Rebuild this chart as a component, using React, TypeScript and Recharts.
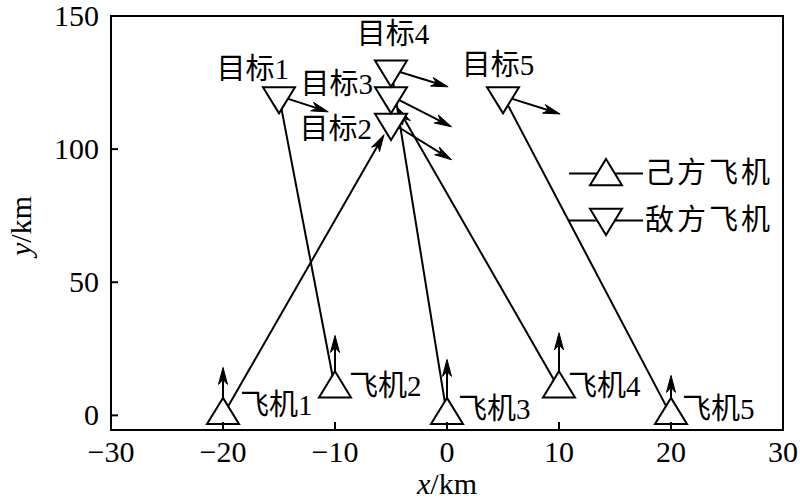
import React from 'react';
import {
  ScatterChart,
  Scatter,
  XAxis,
  YAxis,
  ReferenceLine,
  ReferenceArea,
  Legend,
} from 'recharts';

// own aircraft
const ownNames = ['飞机1', '飞机2', '飞机3', '飞机4', '飞机5'];
const ownX = [-20, -10, 0, 10, 20];
const ownY = [0, 10, 0, 10, 0];
const ownVy = [18, 20, 21, 21, 15];

// enemy targets
const targetNames = ['目标1', '目标2', '目标3', '目标4', '目标5'];
const targetX = [-15, -5, -5, -5, 5];
const targetY = [120, 110, 120, 130, 120];
const targetVx = [4.4, 5.4, 5.4, 5.1, 5.1];
const targetVy = [-6, -14, -11.6, -6.6, -6.8];

// target index assigned to each own aircraft
const assignTo = [1, 0, 3, 2, 4];
const assignHead = [true, false, false, true, false];

const xTicks = [-30, -20, -10, 0, 10, 20, 30];
const yTicks = [0, 50, 100, 150];
const legendNames = ['己方飞机', '敌方飞机'];

// label placement (pixels, relative to marker)
const ownLabelPos: [number, number][] = [[17, -10], [14, -3], [11, -6], [9, -3], [11, -6]];
const targetLabelPos: [string, number, number][] = [
  ['end', 10, -27],
  ['end', -19, 7],
  ['end', -18, -12],
  ['middle', 2, -35],
  ['middle', -5, -31],
];

const SERIF = '"Liberation Serif", "Times New Roman", serif';
const CJK = '"Liberation Serif", "Noto Sans CJK SC", sans-serif';

const ownData = ownNames.map((name, i) => ({ x: ownX[i], y: ownY[i], name, i }));
const targetData = targetNames.map((name, i) => ({ x: targetX[i], y: targetY[i], name, i }));

const upTri = (cx: number, cy: number) =>
  `${cx},${cy - 17.5} ${cx + 16},${cy + 8.7} ${cx - 16},${cy + 8.7}`;
const downTri = (cx: number, cy: number) =>
  `${cx - 16},${cy - 8.7} ${cx + 16},${cy - 8.7} ${cx},${cy + 17.5}`;

const arrowShape = (head: boolean, back: number) => (props: any) => {
  const { x1, y1, x2, y2 } = props;
  const dx = x2 - x1;
  const dy = y2 - y1;
  const len = Math.sqrt(dx * dx + dy * dy) || 1;
  const ux = dx / len;
  const uy = dy / len;
  const tx = x2 - ux * back;
  const ty = y2 - uy * back;
  const hl = 17;
  const hw = 4.5;
  const nl = 12;
  const bx = tx - ux * hl;
  const by = ty - uy * hl;
  const pts = [
    [tx, ty],
    [bx - uy * hw, by + ux * hw],
    [tx - ux * nl, ty - uy * nl],
    [bx + uy * hw, by - ux * hw],
  ]
    .map((p) => p.join(','))
    .join(' ');
  return (
    <g>
      <line x1={x1} y1={y1} x2={head ? tx - ux * 8 : x2} y2={head ? ty - uy * 8 : y2} stroke="#000" strokeWidth={2} />
      {head && <polygon points={pts} fill="#000" stroke="#000" strokeWidth={1} />}
    </g>
  );
};

const OwnShape = (props: any) => {
  const { cx, cy, payload } = props;
  const [dx, dy] = ownLabelPos[payload.i];
  return (
    <g>
      <polygon points={upTri(cx, cy)} fill="#fff" stroke="#000" strokeWidth={2} />
      <text x={cx + dx} y={cy + dy} textAnchor="start" dominantBaseline="central" fontFamily={CJK} fontSize={29} fill="#000">
        {payload.name}
      </text>
    </g>
  );
};

const TargetShape = (props: any) => {
  const { cx, cy, payload } = props;
  const [anchor, dx, dy] = targetLabelPos[payload.i];
  return (
    <g>
      <polygon points={downTri(cx, cy)} fill="#fff" stroke="#000" strokeWidth={2} />
      <text x={cx + dx} y={cy + dy} textAnchor={anchor as any} dominantBaseline="central" fontFamily={CJK} fontSize={29} fill="#000">
        {payload.name}
      </text>
    </g>
  );
};

const fmt = (v: number) => String(v).replace('-', '\u2212');

const XTick = (props: any) => {
  const { x, y, payload } = props;
  return (
    <g>
      <line x1={x} x2={x} y1={y} y2={y - 8} stroke="#000" strokeWidth={2} />
      <text x={x} y={y + 32} textAnchor="middle" fontFamily={SERIF} fontSize={30} fill="#000">
        {fmt(payload.value)}
      </text>
    </g>
  );
};

const YTick = (props: any) => {
  const { x, y, payload } = props;
  return (
    <g>
      <line x1={x} x2={x + 7} y1={y} y2={y} stroke="#000" strokeWidth={2} />
      <text x={x - 12} y={y + 10} textAnchor="end" fontFamily={SERIF} fontSize={30} fill="#000">
        {fmt(payload.value)}
      </text>
    </g>
  );
};

const LegendContent = () => (
  <div style={{ display: 'flex', flexDirection: 'column' }}>
    {legendNames.map((name, i) => (
      <div key={name} style={{ display: 'flex', alignItems: 'center', height: 47 }}>
        <svg width={76} height={47}>
          <line x1={0} x2={74} y1={23.5} y2={23.5} stroke="#000" strokeWidth={2} />
          <polygon points={i === 0 ? upTri(37, 23.5 + 3) : downTri(37, 23.5 - 3)} fill="#fff" stroke="#000" strokeWidth={2} />
        </svg>
        <span style={{ fontFamily: CJK, fontSize: 29, letterSpacing: 3, lineHeight: '47px', color: '#000', whiteSpace: 'nowrap' }}>{name}</span>
      </div>
    ))}
  </div>
);

export default function App() {
  return (
    <div style={{ position: 'absolute', left: 0, top: 0, background: '#fff' }}>
      <ScatterChart width={800} height={504} margin={{ top: 16, right: 17, bottom: 0, left: 0 }}>
        <XAxis
          type="number"
          dataKey="x"
          domain={[-30, 30]}
          ticks={xTicks}
          axisLine={false}
          tickLine={false}
          tickSize={0}
          tickMargin={0}
          height={74}
          tick={<XTick />}
          label={{
            content: (p: any) => (
              <text x={p.viewBox.x + p.viewBox.width / 2} y={p.viewBox.y + 64} textAnchor="middle" fontFamily={SERIF} fontSize={30} fill="#000">
                <tspan fontStyle="italic">x</tspan>/km
              </text>
            ),
          }}
        />
        <YAxis
          type="number"
          dataKey="y"
          domain={[-5.5, 150]}
          ticks={yTicks}
          axisLine={false}
          tickLine={false}
          tickSize={0}
          tickMargin={0}
          width={111}
          tick={<YTick />}
          label={{
            content: (p: any) => {
              const cx = p.viewBox.x + 31;
              const cy = p.viewBox.y + p.viewBox.height / 2 + 3;
              return (
                <text x={cx} y={cy} transform={`rotate(-90, ${cx}, ${cy})`} textAnchor="middle" fontFamily={SERIF} fontSize={30} fill="#000">
                  <tspan fontStyle="italic">y</tspan>/km
                </text>
              );
            },
          }}
        />
        <ReferenceArea x1={-30} x2={30} y1={-5.5} y2={150} fill="none" fillOpacity={0} stroke="#000" strokeWidth={2} />
        {ownNames.map((n, i) => (
          <ReferenceLine
            key={`as-${n}`}
            segment={[
              { x: ownX[i], y: ownY[i] },
              { x: targetX[assignTo[i]], y: targetY[assignTo[i]] },
            ]}
            shape={arrowShape(assignHead[i], 14)}
          />
        ))}
        {ownNames.map((n, i) => (
          <ReferenceLine
            key={`ov-${n}`}
            segment={[
              { x: ownX[i], y: ownY[i] },
              { x: ownX[i], y: ownY[i] + ownVy[i] },
            ]}
            shape={arrowShape(true, 0)}
          />
        ))}
        {targetNames.map((n, i) => (
          <ReferenceLine
            key={`tv-${n}`}
            segment={[
              { x: targetX[i], y: targetY[i] },
              { x: targetX[i] + targetVx[i], y: targetY[i] + targetVy[i] },
            ]}
            shape={arrowShape(true, 0)}
          />
        ))}
        <Scatter name={legendNames[0]} data={ownData} shape={<OwnShape />} isAnimationActive={false} fill="#fff" stroke="#000" />
        <Scatter name={legendNames[1]} data={targetData} shape={<TargetShape />} isAnimationActive={false} fill="#fff" stroke="#000" />
        <Legend
          layout="vertical"
          align="center"
          verticalAlign="middle"
          content={<LegendContent />}
          wrapperStyle={{ left: 569, top: 150, width: 225, height: 94 }}
        />
      </ScatterChart>
    </div>
  );
}
